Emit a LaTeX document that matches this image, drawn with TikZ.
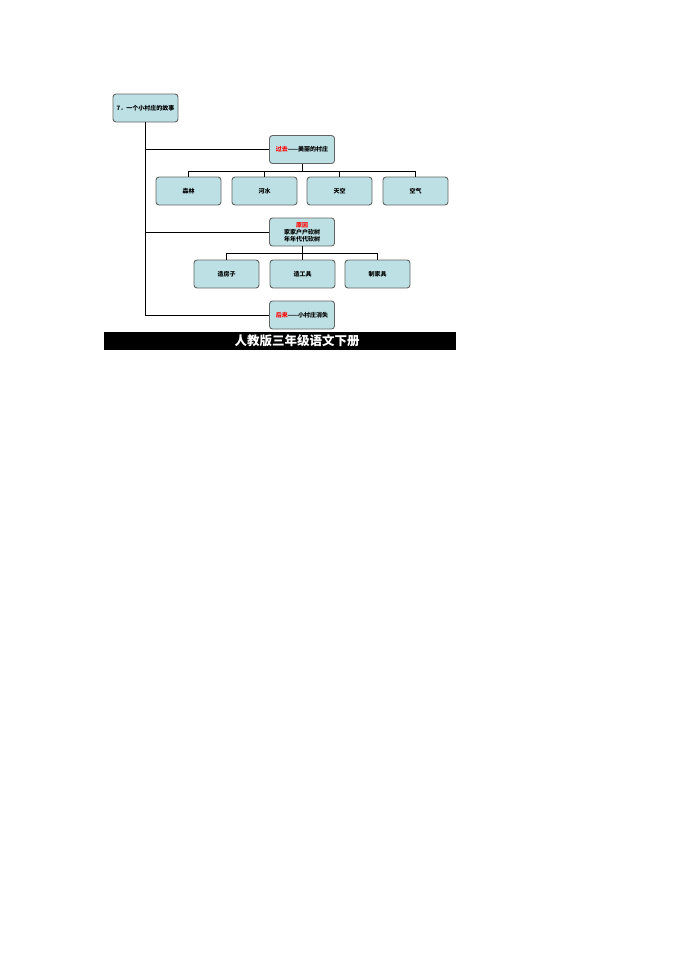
\documentclass[tikz,border=0pt]{standalone}
\usepackage{fontspec}
\newfontfamily\cjk{Noto Sans CJK SC}
\definecolor{boxfill}{RGB}{188,224,228}
\definecolor{boxline}{RGB}{100,100,100}
\tikzset{
    topic/.style={draw=boxline, line width=0.9pt, fill=boxfill, rounded corners=3pt,
        minimum width=65pt, minimum height=28pt, inner sep=1pt, align=center,
        font=\cjk\bfseries\fontsize{6}{7}\selectfont},
    link/.style={draw=black, line width=0.7pt}
}
\begin{document}
\begin{tikzpicture}[x=1pt,y=-1pt]
        % page frame
        \useasboundingbox (0,0) rectangle (690,975);

        % Story title and main stages
        \node [topic] (title) at (145.5,108) {7．一个小村庄的故事};
        \node [topic] (past) at (302,149.5) {\textcolor{red}{过去}——美丽的村庄};
        \node [topic] (cause) at (302,232) {\textcolor{red}{原因}\\家家户户砍树\\年年代代砍树};
        \node [topic] (later) at (302,315) {\textcolor{red}{后来}——小村庄消失};

        % What the village had
        \node [topic] (forest) at (188.5,191) {森林};
        \node [topic] (river) at (264.5,191) {河水};
        \node [topic] (sky) at (339.5,191) {天空};
        \node [topic] (air) at (415.5,191) {空气};

        % What the trees were cut for
        \node [topic] (house) at (226.5,274) {造房子};
        \node [topic] (tools) at (302.5,274) {造工具};
        \node [topic] (furniture) at (377.5,274) {制家具};

        % Trunk from the title
        \draw [link] (title.south) |- (later.west);
        \draw [link] (title.south |- past.west) -- (past.west);
        \draw [link] (title.south |- cause.west) -- (cause.west);

        % Branches
        \foreach \n in {forest,river,sky,air}
            \draw [link] (past.south) -- ++(0,7) -| (\n.north);
        \foreach \n in {house,tools,furniture}
            \draw [link] (cause.south) -- ++(0,7) -| (\n.north);

        % Footer bar
        \fill [black] (104,332) rectangle (456,350);
        \node [text=white, font=\cjk\bfseries\fontsize{12.5}{13}\selectfont] (footer) at (297,341) {人教版三年级语文下册};
    \end{tikzpicture}
\end{document}
